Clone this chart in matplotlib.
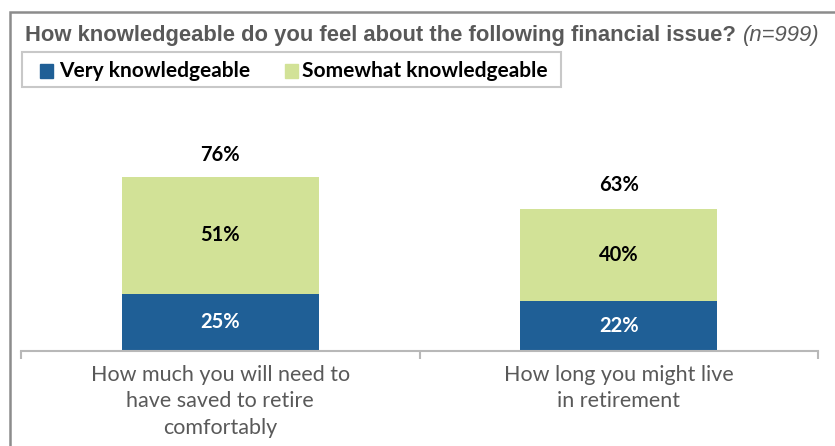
import matplotlib.pyplot as plt
from matplotlib.patches import Rectangle

categories = ["How much you will need to\nhave saved to retire\ncomfortably",
              "How long you might live\nin retirement"]
very = [25, 22]
somewhat = [51, 40]
totals = [76, 63]
legend_labels = ["Very knowledgeable", "Somewhat knowledgeable"]

BLUE = "#1f5f96"
GREEN = "#d2e297"
GREY = "#595959"
W, H = 835, 446


def fx(px):
    return px / W


def fy(py):
    return 1 - py / H


fig = plt.figure(figsize=(W / 100, H / 100), dpi=100)
ax = fig.add_axes([fx(21), fy(351), 797 / W, 252 / H])

x = list(range(len(categories)))
ax.bar(x, very, width=0.495, color=BLUE, zorder=2)
ax.bar(x, somewhat, width=0.495, bottom=very, color=GREEN, zorder=2)

for i in x:
    ax.text(i, very[i] / 2, f"{very[i]}%", ha="center", va="center",
            color="white", fontsize=14.5, fontweight="bold", family="Lato")
    ax.text(i, very[i] + somewhat[i] / 2, f"{somewhat[i]}%", ha="center",
            va="center", color="black", fontsize=14.5, fontweight="bold", family="Lato")
    ax.text(i, totals[i] + 9.5, f"{totals[i]}%", ha="center", va="center",
            color="black", fontsize=14.5, fontweight="bold", family="Lato")

ax.set_xlim(-0.5, 1.5)
ax.set_ylim(0, 110)
for s in ["top", "right", "left"]:
    ax.spines[s].set_visible(False)
ax.spines["bottom"].set_color("#b8b8b8")
ax.spines["bottom"].set_linewidth(1.5)
ax.set_yticks([])
ax.set_xticks([-0.5, 0.5, 1.5])
ax.set_xticklabels([])
ax.tick_params(axis="x", length=6, color="#b8b8b8", width=1.5)
for i in x:
    ax.text(i, -6, categories[i], ha="center", va="top", color=GREY,
            fontsize=15.5, family="Lato", linespacing=1.4)

# outer frame
fig.patches.append(Rectangle((fx(10), -0.1), 1.0, fy(12) + 0.1,
                             transform=fig.transFigure, fill=False,
                             edgecolor="#8c8c8c", linewidth=1.8))

title = fig.text(fx(25), fy(35), "How knowledgeable do you feel about the following financial issue?",
                 color=GREY, fontsize=15.8, fontweight="bold", family="Liberation Sans", va="center")
fig.canvas.draw()
bb = title.get_window_extent()
fig.text(bb.x1 / W + fx(7), fy(35), "(n=999)", color=GREY, fontsize=15.8, style="italic",
         family="Liberation Sans", va="center")

# legend box
fig.patches.append(Rectangle((fx(22), fy(87)), 539 / W, 35 / H,
                             transform=fig.transFigure, fill=False,
                             edgecolor="#c8c8c8", linewidth=1.5))
for sx, tx, col, lab in [(40, 59, BLUE, legend_labels[0]), (285, 302, GREEN, legend_labels[1])]:
    fig.patches.append(Rectangle((fx(sx), fy(78)), 13 / W, 14 / H,
                                 transform=fig.transFigure, color=col))
    fig.text(fx(tx), fy(71), lab, fontsize=15, family="Lato",
             fontweight="bold", color="black", va="center")

fig.savefig("out.png", dpi=100)
